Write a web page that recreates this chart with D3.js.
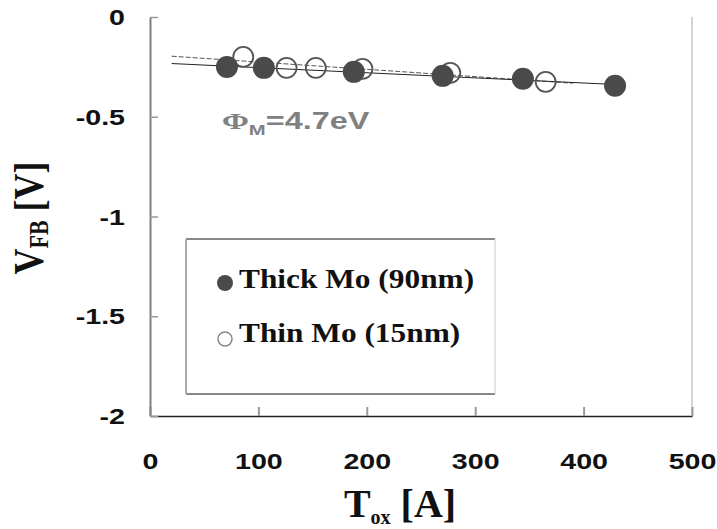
<!DOCTYPE html>
<html>
<head>
<meta charset="utf-8">
<script src="https://cdn.jsdelivr.net/npm/d3@7"></script>
<style>
  html, body { margin: 0; padding: 0; background: #fff; }
  svg { display: block; }
</style>
</head>
<body>
<div id="chart"></div>
<script>
// values
const thickTox = [71, 105, 188, 270, 344, 429];
const thickVfb = [-0.25, -0.255, -0.275, -0.295, -0.31, -0.345];
const thinTox = [86, 126, 153, 196, 277, 365];
const thinVfb = [-0.20, -0.255, -0.255, -0.26, -0.28, -0.325];

// x extent of the fitted lines
const thickTrendX = [20, 430];
const thinTrendX = [20, 390];

const xTicks = [0, 100, 200, 300, 400, 500];
const yTicks = [0, -0.5, -1, -1.5, -2];
const legendLabels = ["Thick Mo (90nm)", "Thin Mo (15nm)"];

const width = 717, height = 529;
const margin = {top: 17, right: 25, bottom: 113, left: 150};
const SX = 1.3; // the figure is stretched sideways

const svg = d3.select("#chart").append("svg")
    .attr("width", width)
    .attr("height", height);

const x = d3.scaleLinear().domain([0, 500]).range([margin.left, width - margin.right]);
const y = d3.scaleLinear().domain([-2, 0]).range([height - margin.bottom, margin.top]);

// least squares fit
function fit(xs, ys) {
    const mx = d3.mean(xs), my = d3.mean(ys);
    let num = 0, den = 0;
    xs.forEach((v, i) => { num += (v - mx) * (ys[i] - my); den += (v - mx) * (v - mx); });
    const b = num / den;
    return v => my + b * (v - mx);
}

// right border of plot area
svg.append("line")
    .attr("x1", x(500)).attr("x2", x(500))
    .attr("y1", y(0)).attr("y2", y(-2))
    .attr("stroke", "#d4d4d4").attr("stroke-width", 2);

// x axis
const xAxis = svg.append("g")
    .attr("transform", `translate(0,${y(-2)})`)
    .call(d3.axisBottom(x).tickValues(xTicks).tickSize(-9).tickSizeOuter(0).tickFormat(d => String(d)));
xAxis.select(".domain").attr("stroke", "#222").attr("stroke-width", 1.5);
xAxis.selectAll(".tick line").attr("stroke", "#999").attr("stroke-width", 2);
xAxis.selectAll(".tick text")
    .attr("y", 45).attr("dy", "0.35em")
    .attr("transform", `scale(${SX},1)`)
    .style("font", "bold 22px 'Liberation Sans', Arial, sans-serif")
    .attr("fill", "#111");

// y axis
const yAxis = svg.append("g")
    .attr("transform", `translate(${x(0)},0)`)
    .call(d3.axisLeft(y).tickValues(yTicks).tickSize(-8).tickSizeOuter(0).tickFormat(d => String(d)));
yAxis.select(".domain").attr("stroke", "#808080").attr("stroke-width", 2);
yAxis.selectAll(".tick line").attr("stroke", "#999").attr("stroke-width", 1.5);
yAxis.selectAll(".tick text")
    .attr("x", -25 / SX).attr("dy", "0.35em")
    .attr("transform", `scale(${SX},1)`)
    .style("font", "bold 22px 'Liberation Sans', Arial, sans-serif")
    .attr("fill", "#111");

// trend lines
const thickFit = fit(thickTox, thickVfb);
const thinFit = fit(thinTox, thinVfb);
const line = d3.line().x(d => x(d[0])).y(d => y(d[1]));

svg.append("path")
    .attr("d", line(thinTrendX.map(v => [v, thinFit(v)])))
    .attr("fill", "none").attr("stroke", "#555").attr("stroke-width", 1)
    .attr("stroke-dasharray", "5,2");

svg.append("path")
    .attr("d", line(thickTrendX.map(v => [v, thickFit(v)])))
    .attr("fill", "none").attr("stroke", "#222").attr("stroke-width", 1);

// thin Mo (open)
svg.append("g").selectAll("circle")
    .data(thinTox.map((v, i) => [v, thinVfb[i]]))
    .join("circle")
    .attr("cx", d => x(d[0])).attr("cy", d => y(d[1]))
    .attr("r", 10)
    .attr("fill", "none").attr("stroke", "#555").attr("stroke-width", 1.8);

// thick Mo (filled)
svg.append("g").selectAll("circle")
    .data(thickTox.map((v, i) => [v, thickVfb[i]]))
    .join("circle")
    .attr("cx", d => x(d[0])).attr("cy", d => y(d[1]))
    .attr("r", 11)
    .attr("fill", "#4a4a4a");

// work function note
const phi = svg.append("text")
    .attr("transform", `translate(222,129) scale(1.35,1)`)
    .attr("fill", "#808080")
    .style("font", "bold 24px 'Liberation Sans', Arial, sans-serif");
phi.append("tspan").style("font-family", "'Liberation Serif', serif").text("Φ");
phi.append("tspan").style("font-size", "15px").attr("dy", 6).text("M");
phi.append("tspan").attr("dy", -6).text("=4.7eV");

// legend
const lg = svg.append("g");
lg.append("line").attr("x1", 186).attr("x2", 495).attr("y1", 239).attr("y2", 239).attr("stroke", "#111");
lg.append("line").attr("x1", 186).attr("x2", 495).attr("y1", 394).attr("y2", 394).attr("stroke", "#111");
lg.append("line").attr("x1", 186).attr("x2", 186).attr("y1", 239).attr("y2", 394).attr("stroke", "#aaa").attr("stroke-width", 2);
lg.append("line").attr("x1", 495).attr("x2", 495).attr("y1", 239).attr("y2", 394).attr("stroke", "#ccc");

const rows = [
    {label: legendLabels[0], cy: 283, base: 288, filled: true},
    {label: legendLabels[1], cy: 339, base: 342, filled: false}
];
rows.forEach(r => {
    lg.append("circle")
        .attr("cx", 225).attr("cy", r.cy)
        .attr("r", r.filled ? 8 : 7)
        .attr("fill", r.filled ? "#4a4a4a" : "none")
        .attr("stroke", r.filled ? "none" : "#888")
        .attr("stroke-width", 1.5);
    lg.append("text")
        .attr("transform", `translate(239,${r.base}) scale(1.12,1)`)
        .style("font", "bold 28px 'Liberation Serif', 'Times New Roman', serif")
        .attr("fill", "#111")
        .text(r.label);
});

// axis titles
const xt = svg.append("text")
    .attr("x", 400).attr("y", 517)
    .attr("text-anchor", "middle")
    .style("font", "bold 40px 'Liberation Serif', 'Times New Roman', serif")
    .attr("fill", "#111");
xt.append("tspan").text("T");
xt.append("tspan").style("font-size", "20px").attr("dy", 7).text("ox");
xt.append("tspan").attr("dy", -7).text(" [A]");

const yt = svg.append("text")
    .attr("transform", `translate(43,218) scale(1.2,1) rotate(-90)`)
    .attr("text-anchor", "middle")
    .style("font", "bold 36px 'Liberation Serif', 'Times New Roman', serif")
    .attr("fill", "#111");
yt.append("tspan").text("V");
yt.append("tspan").style("font-size", "22px").attr("dy", 4).text("FB");
yt.append("tspan").attr("dy", -4).text(" [V]");
</script>
</body>
</html>
